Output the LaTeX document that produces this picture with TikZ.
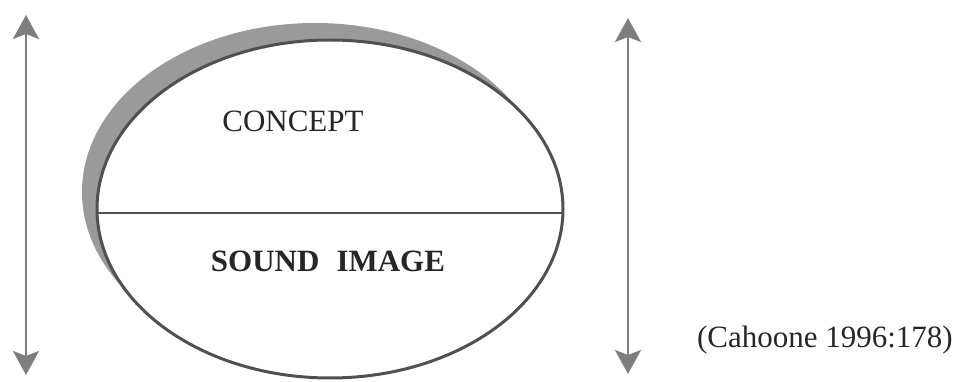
\documentclass[tikz,border=0pt]{standalone}
\usepackage{fontspec}
\setmainfont{Liberation Serif}
\usetikzlibrary{arrows.meta}
\definecolor{outl}{HTML}{505050}
\definecolor{shad}{HTML}{9A9A9A}
\definecolor{arr}{HTML}{7E7E7E}
\begin{document}
\begin{tikzpicture}[x=1pt,y=-1pt,
  dblarrow/.style={draw=arr,line width=2.6pt,
    {Stealth[length=24pt,width=26pt,inset=5pt]}-{Stealth[length=24pt,width=26pt,inset=5pt]}},
  lbl/.style={inner sep=0pt,text=black!85,font=\fontsize{31}{36}\selectfont}]
\useasboundingbox (0,0) rectangle (959,382);
% shadow
\fill[shad] (315,192) ellipse [x radius=233, y radius=169];
% main ellipse
\fill[white] (330,209) ellipse [x radius=233, y radius=169];
\begin{scope}
  \clip (330,209) ellipse [x radius=233, y radius=169];
  \coordinate (dl) at (90,213);
  \coordinate (dr) at (570,213);
  \draw[outl,line width=2pt] (dl) -- (dr);
\end{scope}
\draw[outl,line width=3pt] (330,209) ellipse [x radius=233, y radius=169];
% labels
\node[lbl] (concept) at (293,121) {CONCEPT};
\node[lbl,font=\fontsize{31}{36}\selectfont\bfseries] (sound) at (328,261) {SOUND\hspace{0.3em} IMAGE};
\node[lbl,anchor=east] (cite) at (953,340) {(Cahoone 1996:178)};
% arrows
\coordinate (lt) at (26,15);
\coordinate (lb) at (26,375);
\coordinate (rt) at (628,18);
\coordinate (rb) at (628,374);
\draw[dblarrow] (lt) -- (lb);
\draw[dblarrow] (rt) -- (rb);
\end{tikzpicture}
\end{document}
